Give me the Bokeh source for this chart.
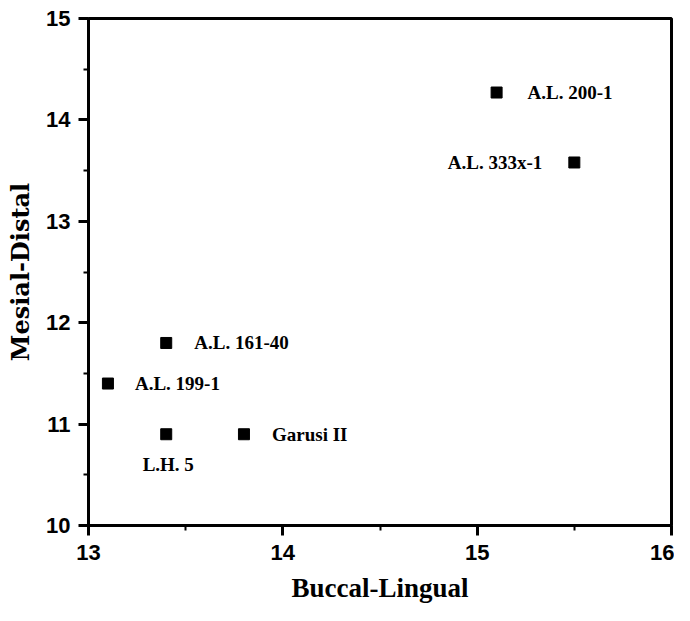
from bokeh.plotting import figure
from bokeh.models import ColumnDataSource, Range1d, FixedTicker
from bokeh.core.properties import value
from bokeh.embed import file_html
from bokeh.resources import INLINE

# ---- data ----
names = ["A.L. 200-1", "A.L. 333x-1", "A.L. 161-40", "A.L. 199-1", "L.H. 5", "Garusi II"]
buccal_lingual = [15.1, 15.5, 13.4, 13.1, 13.4, 13.8]
mesial_distal = [14.27, 13.58, 11.8, 11.4, 10.9, 10.9]
x_ticks = [13, 14, 15, 16]
y_ticks = [10, 11, 12, 13, 14, 15]
x_minor = [13.5, 14.5, 15.5]
y_minor = [10.5, 11.5, 12.5, 13.5, 14.5]

# label placement styles (pixels): name -> (x_off, y_off, align)
label_place = {
    "A.L. 200-1": (31, 0, "left"),
    "A.L. 333x-1": (-32, 0, "right"),
    "A.L. 161-40": (28, 0, "left"),
    "A.L. 199-1": (27, 0, "left"),
    "L.H. 5": (2, 30, "center"),
    "Garusi II": (28, 0, "left"),
}

src = ColumnDataSource(dict(
    x=buccal_lingual, y=mesial_distal, name=names,
    xo=[label_place[n][0] for n in names],
    yo=[label_place[n][1] for n in names],
    al=[label_place[n][2] for n in names],
))

p = figure(width=674, height=605, output_backend="svg", toolbar_location=None,
           x_range=Range1d(13, 16), y_range=Range1d(10, 15),
           min_border_left=88, min_border_right=3, min_border_top=18, min_border_bottom=78)

p.background_fill_color = "white"
p.border_fill_color = "white"
p.grid.visible = False
p.outline_line_color = "black"
p.outline_line_width = 3

serif = "Liberation Serif"
sans = "Liberation Sans"

p.xaxis.ticker = FixedTicker(ticks=x_ticks, minor_ticks=x_minor)
p.yaxis.ticker = FixedTicker(ticks=y_ticks, minor_ticks=y_minor)

for ax in (p.xaxis, p.yaxis):
    ax.axis_line_width = 3
    ax.axis_line_color = "black"
    ax.major_tick_line_width = 3
    ax.minor_tick_line_width = 2
    ax.major_tick_out = 10
    ax.major_tick_in = 0
    ax.minor_tick_out = 5
    ax.minor_tick_in = 0
    ax.major_label_text_font = sans
    ax.major_label_text_font_size = "22px"
    ax.major_label_text_font_style = "bold"
    ax.major_label_text_color = "black"
    ax.axis_label_text_font_style = "bold"
    ax.axis_label_text_color = "black"

p.xaxis.axis_label = "Buccal-Lingual"
p.yaxis.axis_label = "Mesial-Distal"
p.xaxis.axis_label_text_font = serif
p.xaxis.axis_label_text_font_size = "27px"
p.yaxis.axis_label_text_font = "DejaVu Serif"
p.yaxis.axis_label_text_font_size = "24px"
p.xaxis.major_label_standoff = 9
p.yaxis.major_label_standoff = 8
p.xaxis.axis_label_standoff = 10
p.yaxis.axis_label_standoff = 8

p.scatter("x", "y", source=src, marker="square", size=11, fill_color="black", line_color="black",
          line_width=1)

p.text("x", "y", text="name", source=src, x_offset="xo", y_offset="yo",
       text_align="al", text_baseline="middle",
       text_font=value(serif), text_font_style="bold", text_font_size="19px", text_color="black")

open("out.html", "w").write(file_html(p, INLINE))
